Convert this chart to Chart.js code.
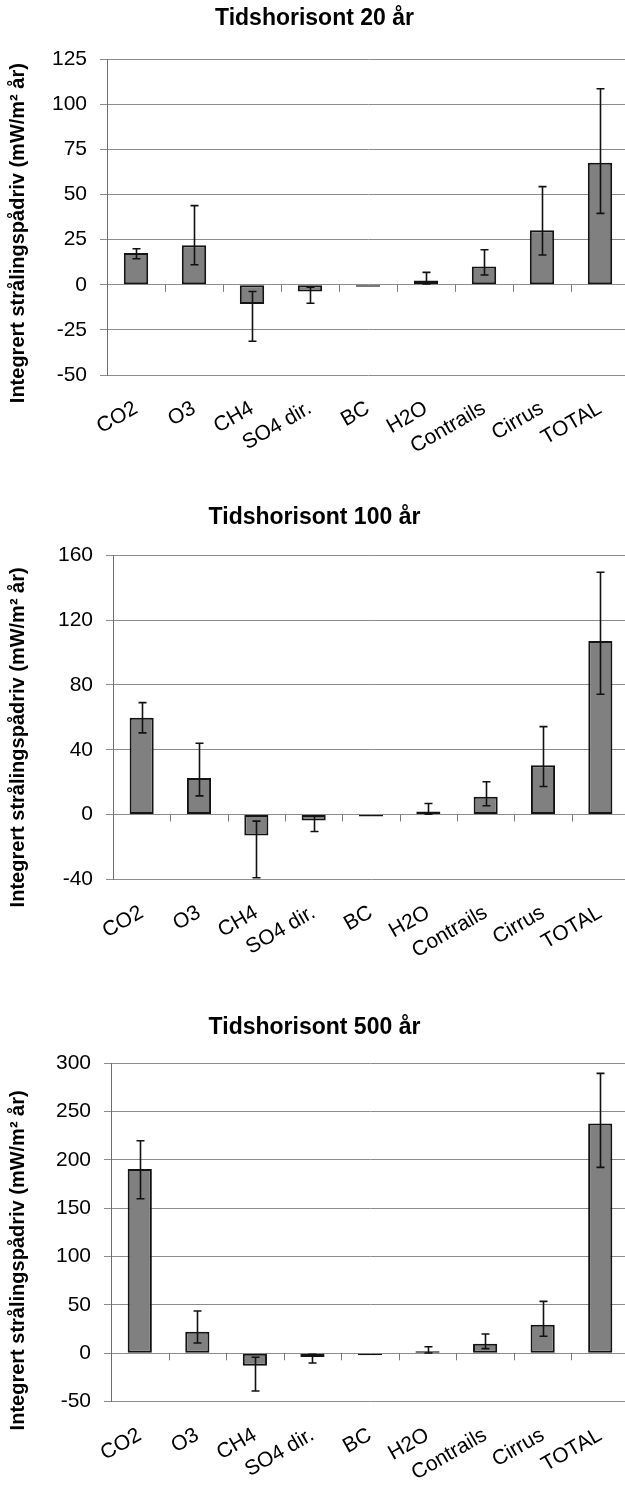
<!DOCTYPE html>
<html lang="no">
<head>
<meta charset="utf-8">
<title>Integrert strålingspådriv</title>
<script src="https://cdn.jsdelivr.net/npm/chart.js@4.4.1/dist/chart.umd.min.js"></script>
<style>
    html, body { margin: 0; padding: 0; background: #fff; overflow: hidden; }
    body { width: 625px; height: 1486px; position: relative; }
    canvas { position: absolute; left: 0; }
</style>
</head>
<body>
<canvas id="graf20" width="629" height="470" style="top:0px"></canvas>
<canvas id="graf100" width="629" height="495" style="top:480px"></canvas>
<canvas id="graf500" width="629" height="511" style="top:975px"></canvas>

<script>
// Kategorier (felles for alle tre tidshorisontene)
const kategorier = ['CO2', 'O3', 'CH4', 'SO4 dir.', 'BC', 'H2O', 'Contrails', 'Cirrus', 'TOTAL'];

// Tidshorisont 20 år
const verdier20 = [17.6, 21.9, -10.7, -3.7, -0.7, 2.4, 10.2, 30.2, 67.6];
const feilLav20 = [14.4, 11.1, -31.3, -10.2, null, 0.5, 5.4, 16.5, 39.6];
const feilHoy20 = [20.0, 43.9, -3.7, -1.3, null, 6.9, 19.4, 54.4, 108.7];
const ticks20 = [-50, -25, 0, 25, 50, 75, 100, 125];

// Tidshorisont 100 år
const verdier100 = [59.7, 22.6, -13.0, -3.7, -0.5, 1.85, 10.9, 30.4, 107.2];
const feilLav100 = [50.4, 11.5, -39.0, -10.5, null, 0.2, 5.4, 17.3, 74.3];
const feilHoy100 = [69.1, 44.0, -4.1, -0.8, null, 6.8, 20.2, 54.3, 149.6];
const ticks100 = [-40, 0, 40, 80, 120, 160];

// Tidshorisont 500 år
const verdier500 = [190.4, 22.3, -12.8, -3.8, -0.5, 1.7, 9.9, 29.5, 237.6];
const feilLav500 = [159.7, 10.6, -38.9, -10.0, null, 0.3, 4.8, 17.6, 192.1];
const feilHoy500 = [219.6, 43.7, -4.1, -1.0, null, 6.8, 19.9, 53.7, 289.3];
const ticks500 = [-50, 0, 50, 100, 150, 200, 250, 300];

const yTittel = 'Integrert strålingspådriv (mW/m² år)';
const fontNavn = "'Liberation Sans', Arial, sans-serif";

// Feilstolper, små streker på nullinjen mellom kategoriene og y-aksetittel
const feilstolpePlugin = {
    id: 'feilstolper',
    afterDatasetsDraw(chart, args, opts) {
        const ctx = chart.ctx;
        const x = chart.scales.x;
        const y = chart.scales.y;
        const meta = chart.getDatasetMeta(0);
        const null0 = y.getPixelForValue(0);
        const bredde = x.width / chart.data.labels.length;

        ctx.save();
        // tick-merker langs nullinjen
        ctx.strokeStyle = '#7a7a7a';
        ctx.lineWidth = 1;
        for (let i = 1; i < chart.data.labels.length; i++) {
            const xb = Math.round(x.left + i * bredde) + 0.5;
            ctx.beginPath();
            ctx.moveTo(xb, null0);
            ctx.lineTo(xb, null0 + 7);
            ctx.stroke();
        }

        ctx.strokeStyle = '#111';
        ctx.lineWidth = 1.6;
        meta.data.forEach((bar, i) => {
            const lav = opts.lav[i];
            const hoy = opts.hoy[i];
            if (lav === null || hoy === null) return;
            const xm = Math.round(bar.x) + 0.5;
            const y1 = y.getPixelForValue(lav);
            const y2 = y.getPixelForValue(hoy);
            ctx.beginPath();
            ctx.moveTo(xm, y1);
            ctx.lineTo(xm, y2);
            ctx.moveTo(xm - 4, y1);
            ctx.lineTo(xm + 4, y1);
            ctx.moveTo(xm - 4, y2);
            ctx.lineTo(xm + 4, y2);
            ctx.stroke();
        });

        // y-aksetittel, litt under midten av plottet
        ctx.translate(18, (y.top + y.bottom) / 2 + opts.tittelForskyvning);
        ctx.rotate(-Math.PI / 2);
        ctx.fillStyle = '#000';
        ctx.font = 'bold 20px ' + fontNavn;
        ctx.textAlign = 'center';
        ctx.textBaseline = 'middle';
        ctx.fillText(yTittel, 0, 0);
        ctx.restore();
    }
};

function lagGraf(id, tittel, verdier, lav, hoy, ticks, oppsett) {
    new Chart(document.getElementById(id).getContext('2d'), {
        type: 'bar',
        data: {
            labels: kategorier,
            datasets: [{
                data: verdier,
                backgroundColor: '#808080',
                borderColor: '#141414',
                borderWidth: 2,
                borderSkipped: false,
                minBarLength: 2,
                categoryPercentage: 1,
                barPercentage: 0.42
            }]
        },
        options: {
            responsive: false,
            animation: false,
            layout: { padding: 0 },
            plugins: {
                legend: { display: false },
                tooltip: { enabled: false },
                title: {
                    display: true,
                    text: tittel,
                    color: '#000',
                    font: { family: fontNavn, size: 23, weight: 'bold', lineHeight: 1.2 },
                    padding: { top: oppsett.tittelTopp, bottom: oppsett.tittelBunn }
                },
                feilstolper: { lav: lav, hoy: hoy, tittelForskyvning: oppsett.yTittelForskyvning }
            },
            scales: {
                x: {
                    grid: { display: false },
                    border: { display: false },
                    ticks: {
                        autoSkip: false,
                        minRotation: 30,
                        maxRotation: 30,
                        padding: oppsett.etikettAvstand,
                        color: '#000',
                        font: { family: fontNavn, size: 21 }
                    },
                    afterFit(skala) { skala.height = oppsett.xHoyde; }
                },
                y: {
                    min: ticks[0],
                    max: ticks[ticks.length - 1],
                    afterBuildTicks(skala) { skala.ticks = ticks.map(v => ({ value: v })); },
                    grid: { color: '#8c8c8c', lineWidth: 1, tickLength: 7 },
                    border: { color: '#6e6e6e', width: 1 },
                    ticks: {
                        padding: 13,
                        color: '#000',
                        font: { family: fontNavn, size: 21 }
                    },
                    afterFit(skala) { skala.width = oppsett.yBredde; }
                }
            }
        },
        plugins: [feilstolpePlugin]
    });
}

lagGraf('graf20', 'Tidshorisont 20 år', verdier20, feilLav20, feilHoy20, ticks20,
    { tittelTopp: 4.7, tittelBunn: 27, xHoyde: 95, etikettAvstand: 13, yBredde: 107, yTittelForskyvning: 16 });
lagGraf('graf100', 'Tidshorisont 100 år', verdier100, feilLav100, feilHoy100, ticks100,
    { tittelTopp: 24.2, tittelBunn: 23.6, xHoyde: 95.7, etikettAvstand: 13, yBredde: 113, yTittelForskyvning: 20 });
lagGraf('graf500', 'Tidshorisont 500 år', verdier500, feilLav500, feilHoy500, ticks500,
    { tittelTopp: 39.2, tittelBunn: 21.2, xHoyde: 84.3, etikettAvstand: 13, yBredde: 111, yTittelForskyvning: 28 });
</script>
</body>
</html>
